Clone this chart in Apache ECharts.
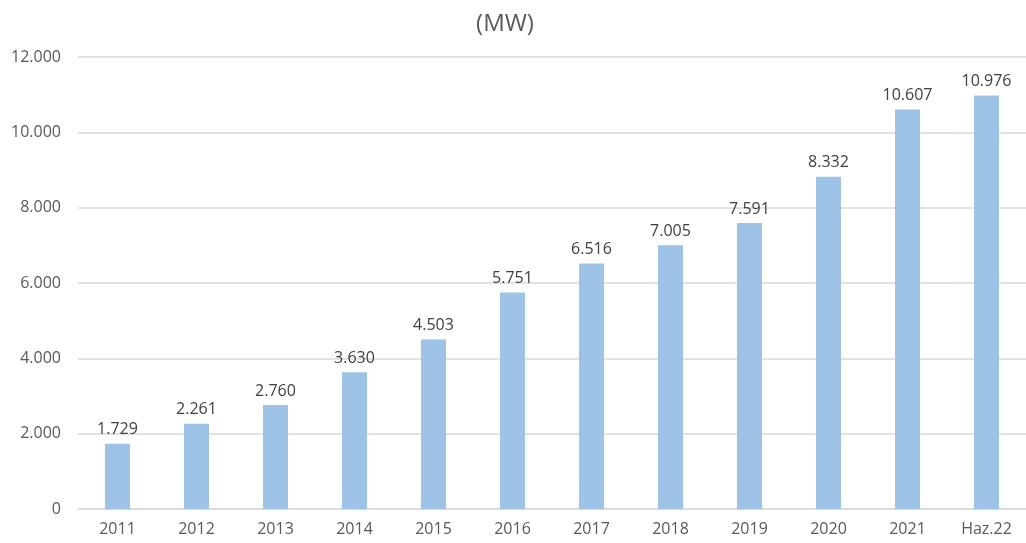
<!DOCTYPE html>
<html>
<head>
<meta charset="utf-8">
<script src="https://cdn.jsdelivr.net/npm/echarts@6/dist/echarts.min.js"></script>
<style>
  html, body { margin: 0; padding: 0; background: #fff; }
  #chart { width: 1026px; height: 543px; }
</style>
</head>
<body>
<div id="chart"></div>
<script>
// kategoriler ve değerler (MW)
var categories = ['2011', '2012', '2013', '2014', '2015', '2016', '2017', '2018', '2019', '2020', '2021', 'Haz.22'];
// sütun yükseklikleri (2020 sütunu etiketinden daha uzun çizilmiş)
var barValues = [1729, 2261, 2760, 3630, 4503, 5751, 6516, 7005, 7591, 8820, 10607, 10976];
// sütun üstündeki etiketler
var barLabels = ['1.729', '2.261', '2.760', '3.630', '4.503', '5.751', '6.516', '7.005', '7.591', '8.332', '10.607', '10.976'];
var yTicks = [0, 2000, 4000, 6000, 8000, 10000, 12000];

function fmt(v) {
    return String(v).replace(/\B(?=(\d{3})+(?!\d))/g, '.');
}

var chart = echarts.init(document.getElementById('chart'));

chart.setOption({
    animation: false,
    title: {
        text: '(MW)',
        left: 500,
        top: 7,
        textAlign: 'center',
        textStyle: { color: '#595959', fontSize: 24, fontWeight: 'normal', fontFamily: 'Open Sans' }
    },
    grid: { left: 78, right: -5, top: 57, bottom: 34 },
    xAxis: {
        type: 'category',
        data: categories,
        axisLine: { lineStyle: { color: '#d9d9d9', width: 1.5 } },
        axisTick: { show: false },
        axisLabel: { color: '#595959', fontSize: 16, margin: 12, fontFamily: 'Open Sans' }
    },
    yAxis: {
        type: 'value',
        min: yTicks[0],
        max: yTicks[yTicks.length - 1],
        interval: 2000,
        axisLine: { show: false },
        axisTick: { show: false },
        splitLine: { lineStyle: { color: '#d9d9d9', width: 1.5 } },
        axisLabel: {
            color: '#595959', fontSize: 16, margin: 17, fontFamily: 'Open Sans',
            formatter: function (v) { return fmt(v); }
        }
    },
    series: [{
        type: 'bar',
        data: barValues,
        barWidth: 25,
        itemStyle: { color: '#9dc3e6' },
        label: {
            show: true,
            position: 'top',
            distance: 6,
            color: '#404040',
            fontSize: 16,
            fontFamily: 'Open Sans',
            formatter: function (p) { return barLabels[p.dataIndex]; }
        }
    }]
});
</script>
</body>
</html>
